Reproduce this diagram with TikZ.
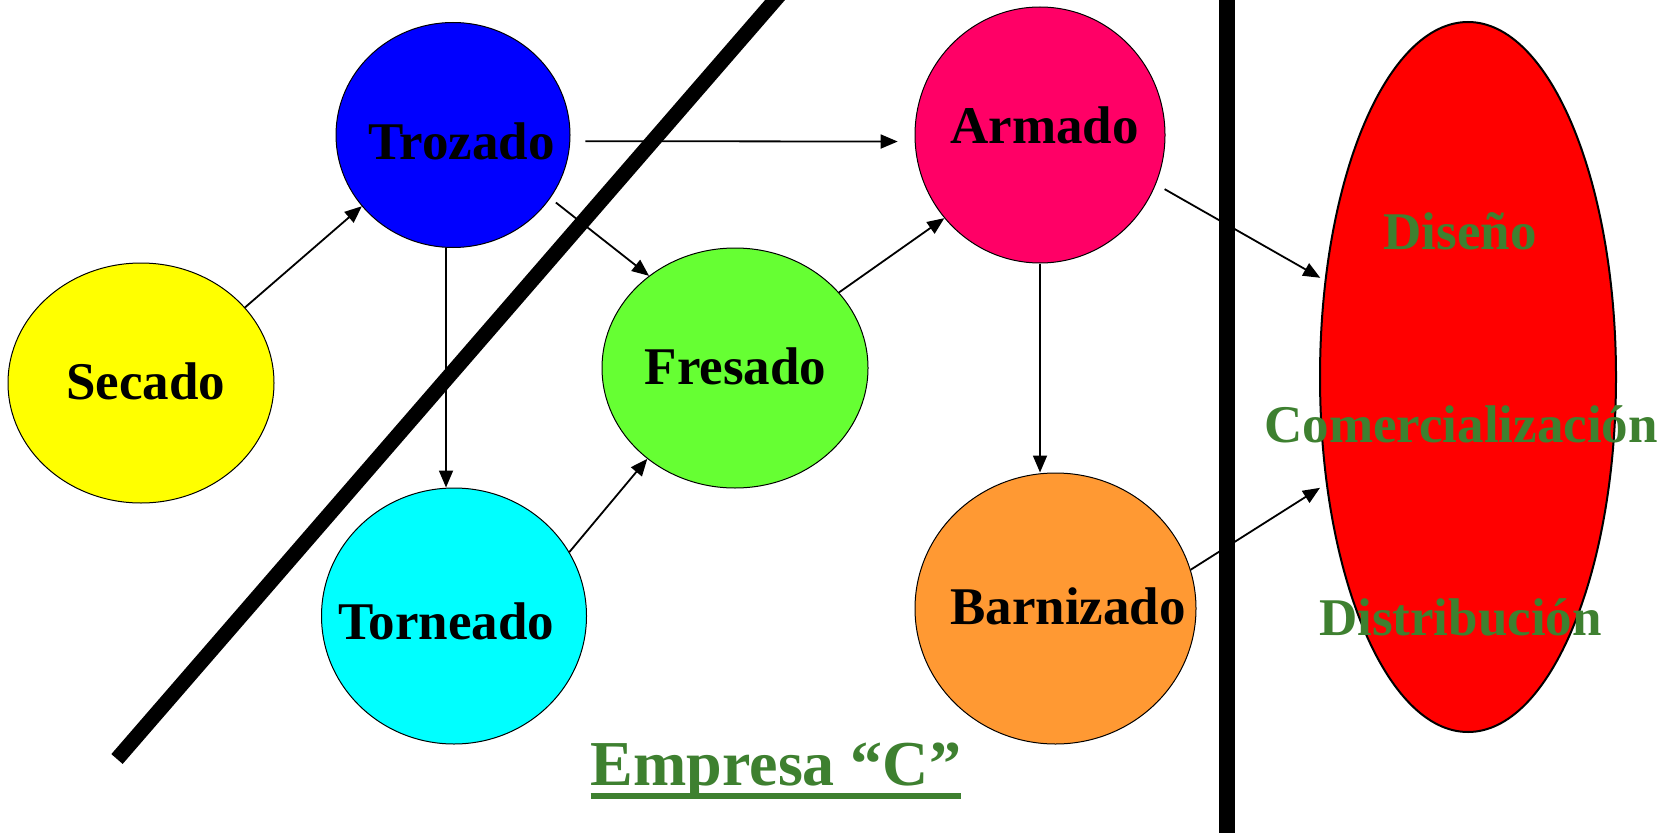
\documentclass[tikz,border=0pt]{standalone}
\usepackage{fontspec}
\setmainfont{Liberation Serif}
\usetikzlibrary{arrows.meta,shapes.geometric}
\definecolor{cSecado}{RGB}{255,255,0}
\definecolor{cTrozado}{RGB}{0,0,255}
\definecolor{cFresado}{RGB}{102,255,51}
\definecolor{cArmado}{RGB}{255,0,102}
\definecolor{cTorneado}{RGB}{0,255,255}
\definecolor{cBarnizado}{RGB}{255,153,51}
\definecolor{cRojo}{RGB}{255,0,0}
\definecolor{cVerde}{RGB}{62,128,48}
\tikzset{
  proc/.style={ellipse, draw=black, line width=1pt, inner sep=0pt},
  lbl/.style={anchor=base, inner sep=0pt, font=\fontsize{53}{60}\selectfont\bfseries},
  glbl/.style={lbl, text=cVerde},
  conn/.style={line width=1.8pt, -{Triangle[length=17pt,width=14pt]}},
  barrier/.style={line width=15pt, line cap=butt}
}
\begin{document}
\begin{tikzpicture}[x=1pt,y=-1pt]
\useasboundingbox[fill=white] (0,0) rectangle (1670,837);
% ellipses
\node[proc, fill=cSecado, minimum width=266pt, minimum height=240pt] (secado) at (141,383) {};
\node[proc, fill=cTrozado, minimum width=234pt, minimum height=225pt] (trozado) at (453,135) {};
\node[proc, fill=cFresado, minimum width=266pt, minimum height=240pt] (fresado) at (735,368) {};
\node[proc, fill=cArmado, minimum width=250pt, minimum height=256pt] (armado) at (1040,135) {};
\node[proc, fill=cTorneado, minimum width=265pt, minimum height=256pt] (torneado) at (454,616) {};
\node[proc, fill=cBarnizado, minimum width=281pt, minimum height=271pt] (barnizado) at (1055.5,608.5) {};
\node[proc, fill=cRojo, line width=2pt, minimum width=296pt, minimum height=710pt] (mercado) at (1468,377) {};
% labels
\node[lbl] (tSecado) at (145.5,399) {Secado};
\node[lbl] (tTrozado) at (461.5,160) {Trozado};
\node[lbl] (tFresado) at (735.5,384) {Fresado};
\node[lbl] (tArmado) at (1044.5,144) {Armado};
\node[lbl] (tTorneado) at (446,639) {Torneado};
\node[lbl] (tBarnizado) at (1068,624) {Barnizado};
\node[glbl] (tDiseno) at (1460,249.5) {Diseño};
\node[glbl] (tComer) at (1461,442.5) {Comercialización};
\node[glbl] (tDistr) at (1460.5,635.5) {Distribución};
\node[lbl, text=cVerde, font=\fontsize{64}{70}\selectfont\bfseries] (emp) at (776,785) {Empresa “C”};
\draw[cVerde, line width=5.5pt] ([yshift=-11pt]emp.base west) -- ([yshift=-11pt]emp.base east);
% connectors
\draw[conn] (secado.36.7) -- (trozado.218.3);
\draw[conn] ([xshift=-7pt]trozado.south) -- ([xshift=-7pt]trozado.south |- torneado.north);
\draw[conn, shorten <=15pt, shorten >=17pt] (trozado.-3.5) -- (armado.183.2);
\draw[conn, shorten <=7pt] (trozado.-33.1) -- (fresado.133.7);
\draw[conn] (torneado.29.8) -- (fresado.226.3);
\draw[conn] (fresado.36.3) -- (armado.221.5);
\draw[conn] (armado.south) -- (armado.south |- barnizado.north);
\draw[conn, shorten <=10pt, shorten >=5pt] (armado.-23.4) -- (mercado.146.5);
\draw[conn, shorten >=7pt] (barnizado.16.8) -- (mercado.217.8);
% thick barriers
\coordinate (dA) at (117,759);
\coordinate (dB) at (782,-8);
\draw[barrier] (dA) -- (dB);
\coordinate (vA) at (1227,-5);
\coordinate (vB) at (1227,833);
\draw[barrier, line width=16pt] (vA) -- (vB);
\end{tikzpicture}
\end{document}
